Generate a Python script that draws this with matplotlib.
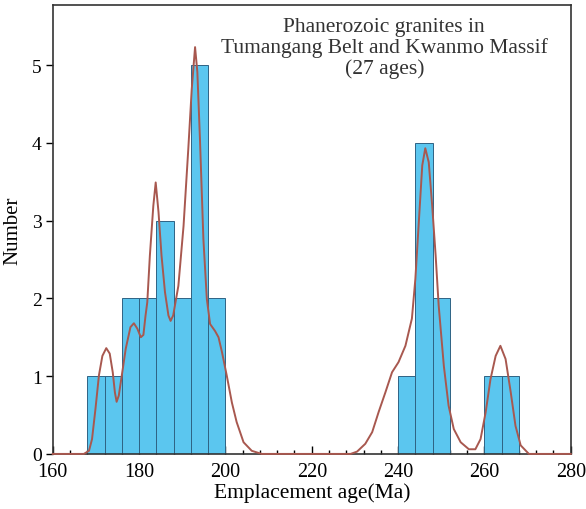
import matplotlib
matplotlib.use('Agg')
import matplotlib.pyplot as plt
from matplotlib.ticker import MultipleLocator

# histogram (4 Ma bins)
bin_left = [168, 172, 176, 180, 184, 188, 192, 196, 240, 244, 248, 260, 264]
counts = [1, 1, 2, 2, 3, 2, 5, 2, 1, 4, 2, 1, 1]
bin_width = 4

# probability density curve
curve_x = [160, 166, 167.2, 168.4, 169.1, 169.9, 170.7, 171.5, 172.4, 173.2,
           173.9, 174.4, 174.8, 175.3, 176.0, 176.9, 178.0, 178.8, 179.6, 180.4,
           181.0, 181.5, 181.9, 182.5, 183.3, 183.85, 184.5, 185.2, 186.0, 186.8,
           187.3, 187.9, 189.1, 190.3, 191.4, 192.2, 192.97, 193.5, 194.1, 194.9,
           195.7, 196.45, 197.6, 198.4, 199.2, 200.3, 201.5, 202.6, 204.2, 206.1,
           208.4, 229.0, 230.5, 232.4, 234.0, 235.5, 237.05, 238.6, 240.1, 241.7,
           243.2, 244.0, 244.8, 245.6, 246.3, 247.1, 247.9, 248.7, 249.4, 250.6,
           251.7, 252.9, 254.5, 256.4, 257.9, 259.1, 260.3, 261.4, 262.6, 263.7,
           264.9, 266.1, 267.2, 268.4, 270.3, 280]
curve_y = [0, 0, 0.0, 0.04, 0.19, 0.58, 1.01, 1.26, 1.36, 1.29,
           1.05, 0.79, 0.67, 0.75, 1.01, 1.35, 1.63, 1.68, 1.61, 1.50,
           1.53, 1.78, 1.95, 2.55, 3.19, 3.49, 3.11, 2.55, 2.08, 1.78,
           1.71, 1.78, 2.16, 2.93, 3.92, 4.69, 5.23, 4.91, 4.05, 2.76,
           1.99, 1.67, 1.58, 1.50, 1.31, 1.01, 0.66, 0.41, 0.15, 0.04,
           0.0, 0.0, 0.03, 0.13, 0.28, 0.54, 0.79, 1.05, 1.18, 1.39,
           1.74, 2.25, 2.98, 3.71, 3.93, 3.75, 3.19, 2.55, 1.91, 1.13,
           0.62, 0.32, 0.15, 0.06, 0.06, 0.19, 0.54, 0.96, 1.26, 1.39,
           1.22, 0.79, 0.36, 0.11, 0.0, 0]

title = "Phanerozoic granites in\nTumangang Belt and Kwanmo Massif\n(27 ages)"

plt.rcParams['font.family'] = ['Liberation Serif', 'DejaVu Serif']

fig = plt.figure(figsize=(5.86, 5.10), dpi=100)
ax = fig.add_axes([0.090, 0.108, 0.884, 0.880])

ax.bar(bin_left, counts, width=bin_width, align='edge', color='#5bc6ef',
       edgecolor='#2f6384', linewidth=0.7, zorder=2)
ax.plot(curve_x, curve_y, color='#a8584f', linewidth=1.4, zorder=3,
        clip_on=False)

ax.set_xlim(160, 280)
ax.set_ylim(0, 5.77)
ax.xaxis.set_major_locator(MultipleLocator(20))
ax.xaxis.set_minor_locator(MultipleLocator(4))
ax.yaxis.set_major_locator(MultipleLocator(1))
ax.tick_params(axis='x', which='major', direction='in', length=6, width=1.0,
               labelsize=14.5, pad=6)
ax.tick_params(axis='x', which='minor', direction='in', length=3, width=1.0)
ax.tick_params(axis='y', direction='out', length=5, width=1.0, labelsize=14,
               pad=3)
for s in ax.spines.values():
    s.set_color('#333333')
    s.set_linewidth(1.2)

ax.set_xlabel('Emplacement age(Ma)', fontsize=15.5, labelpad=1)
ax.set_ylabel('Number', fontsize=15, labelpad=7)

ax.text(236.8, 5.62, title, ha='center', va='top', fontsize=15.5,
        linespacing=1.1, color='#333333')

fig.savefig('out.png', dpi=100)
